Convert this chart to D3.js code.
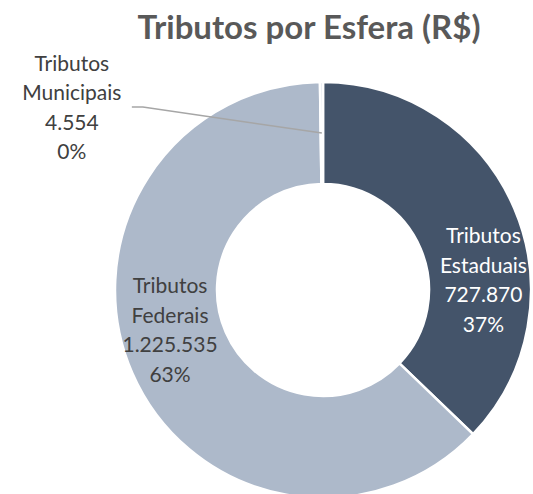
<!DOCTYPE html>
<html>
<head>
<meta charset="utf-8">
<script src="https://cdn.jsdelivr.net/npm/d3@7/dist/d3.min.js"></script>
<style>
    body { margin: 0; background: #fff; }
    text { font-family: Lato, "Open Sans", sans-serif; }
</style>
</head>
<body>
<div class="canvas"></div>

<script>
    const categories = ["Tributos Estaduais", "Tributos Federais", "Tributos Municipais"];
    const values = [727870, 1225535, 4554];
    const valueLabels = ["727.870", "1.225.535", "4.554"];
    const colors = ["#44546a", "#adb9ca", "#d6dce5"];
    const textColors = ["#ffffff", "#404040", "#404040"];

    (function () {
        const width = 533;
        const height = 494;
        const CX = 323;
        const CY = 290;
        const OUTER_R = 208;
        const INNER_R = 106;
        const LINE_H = 29.5;

        const svg = d3.select(".canvas").append("svg")
            .attr("width", width)
            .attr("height", height)

        svg.append("text")
            .attr("x", 309)
            .attr("y", 39)
            .attr("text-anchor", "middle")
            .style("font-size", "33px")
            .style("font-weight", "bold")
            .style("fill", "#595959")
            .text("Tributos por Esfera (R$)")

        const total = d3.sum(values);
        const pie = d3.pie().sort(null)(values);
        const arc = d3.arc().innerRadius(INNER_R).outerRadius(OUTER_R);
        const midArc = d3.arc().innerRadius(157).outerRadius(157);

        const g = svg.append("g").attr("transform", "translate(" + CX + "," + CY + ")")

        g.selectAll("path.slice").data(pie).enter()
            .append("path")
            .attr("class", "slice")
            .attr("d", arc)
            .style("fill", function (d, i) { return colors[i]; })
            .style("stroke", "#fff")
            .style("stroke-width", 2.5)

        // label nudges away from the centroid, Excel-style placement
        const nudges = [[16, 52], [-9, -22], [-250, -25]];

        const labels = g.selectAll("g.label").data(pie).enter()
            .append("g")
            .attr("class", "label")
            .attr("transform", function (d, i) {
                const c = midArc.centroid(d);
                return "translate(" + (c[0] + nudges[i][0]) + "," + (c[1] + nudges[i][1]) + ")";
            })

        labels.each(function (d, i) {
            const words = categories[i].split(" ");
            const lines = [words[0], words[1], valueLabels[i], Math.round(d.value / total * 100) + "%"];
            const el = d3.select(this);
            lines.forEach(function (t, k) {
                el.append("text")
                    .attr("x", 0)
                    .attr("y", (k - 1.5) * LINE_H + 7)
                    .attr("text-anchor", "middle")
                    .style("font-size", "21px")
                    .style("fill", textColors[i])
                    .text(t)
            })
        })

        // leader line for the tiny municipal slice
        const m = midArc.centroid(pie[2]);
        const lx = m[0] + nudges[2][0];
        const ly = m[1] + nudges[2][1];
        g.append("polyline")
            .attr("points", [[m[0], m[1]], [lx + 71, ly - 1], [lx + 60, ly - 1]].map(function (p) { return p.join(","); }).join(" "))
            .style("fill", "none")
            .style("stroke", "#a6a6a6")
            .style("stroke-width", 1.5)
    })()
</script>
</body>
</html>
